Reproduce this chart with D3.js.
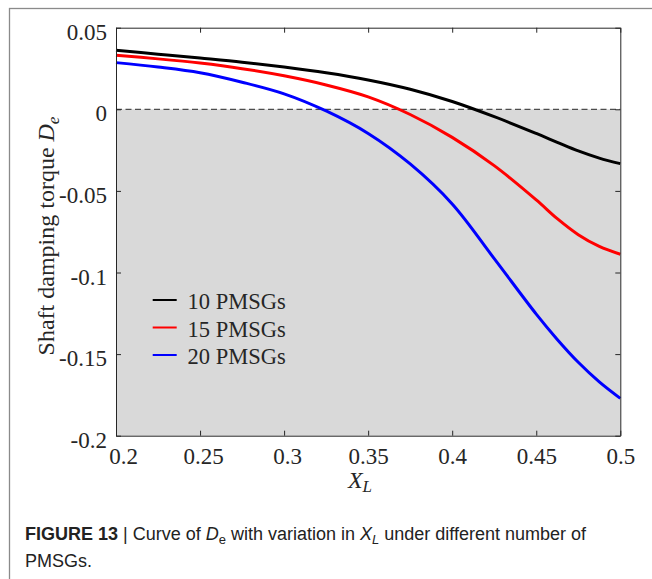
<!DOCTYPE html>
<html>
<head>
<meta charset="utf-8">
<script src="https://cdn.jsdelivr.net/npm/d3@7"></script>
<style>
  html, body { margin: 0; padding: 0; background: #fff; }
  svg { display: block; }
</style>
</head>
<body>
<svg id="chart" width="652" height="579"></svg>
<script>
// ---- data ----
const xValues = [0.2, 0.225, 0.25, 0.275, 0.3, 0.325, 0.35, 0.375, 0.4, 0.425, 0.45, 0.4625, 0.475, 0.4875, 0.5];
const pmsg10 = [0.0362, 0.0338, 0.0314, 0.0289, 0.0259, 0.0224, 0.0180, 0.0123, 0.0048, -0.0045, -0.0148, -0.0202, -0.0255, -0.0299, -0.0333];
const pmsg15 = [0.0331, 0.0309, 0.0283, 0.0249, 0.0205, 0.0149, 0.0076, -0.0032, -0.0172, -0.0345, -0.0555, -0.0670, -0.0768, -0.0840, -0.0888];
const pmsg20 = [0.0286, 0.0259, 0.0224, 0.0166, 0.0095, -0.0010, -0.0148, -0.0335, -0.0580, -0.0915, -0.1255, -0.1410, -0.1550, -0.1670, -0.1771];
const seriesNames = ["10 PMSGs", "15 PMSGs", "20 PMSGs"];
const seriesColors = ["#000000", "#ff0000", "#0000ff"];
const xTicks = [0.2, 0.25, 0.3, 0.35, 0.4, 0.45, 0.5];
const xTickLabels = ["0.2", "0.25", "0.3", "0.35", "0.4", "0.45", "0.5"];
const yTicks = [-0.2, -0.15, -0.1, -0.05, 0, 0.05];
const yTickLabels = ["-0.2", "-0.15", "-0.1", "-0.05", "0", "0.05"];

const series = [pmsg10, pmsg15, pmsg20].map((vals, i) => ({
  name: seriesNames[i], color: seriesColors[i],
  points: vals.map((v, j) => ({ x: xValues[j], y: v }))
}));

// ---- layout ----
const svg = d3.select("#chart");
const L = 116, R = 620.3, T = 27.7, B = 435.7;
const x = d3.scaleLinear().domain([0.2, 0.5]).range([L, R]);
const y = d3.scaleLinear().domain([-0.2, 0.05]).range([B, T]);
const axisColor = "#262626";
const serif = "'Liberation Serif', 'Times New Roman', serif";
const sans = "'Liberation Sans', Arial, Helvetica, sans-serif";

// outer figure frame
svg.append("rect")
  .attr("x", 9.5).attr("y", 8.5).attr("width", 700).attr("height", 700)
  .attr("fill", "none").attr("stroke", "#8a8a8a").attr("stroke-width", 1.3);

// plot background: white above 0, grey below 0
svg.append("rect")
  .attr("x", L).attr("y", y(0)).attr("width", R - L).attr("height", B - y(0))
  .attr("fill", "#d9d9d9");

// dashed zero line
svg.append("line")
  .attr("x1", L).attr("x2", R).attr("y1", y(0)).attr("y2", y(0))
  .attr("stroke", "#4d4d4d").attr("stroke-width", 1.2)
  .attr("stroke-dasharray", "6,3.5");

// curves
const line = d3.line().x(d => x(d.x)).y(d => y(d.y)).curve(d3.curveCatmullRom.alpha(0.5));
svg.append("g").selectAll("path")
  .data(series.slice().reverse())
  .join("path")
  .attr("d", d => line(d.points))
  .attr("fill", "none")
  .attr("stroke", d => d.color)
  .attr("stroke-width", 3)
  .attr("stroke-linejoin", "round");

// axes
function styleAxis(g) {
  g.selectAll(".domain").attr("stroke", axisColor).attr("stroke-width", 1);
  g.selectAll(".tick line").attr("stroke", axisColor).attr("stroke-width", 1);
  g.selectAll("text").attr("fill", axisColor).attr("font-family", serif).attr("font-size", 23);
}
const xAxis = d3.axisBottom(x).tickValues(xTicks)
  .tickFormat((d, i) => xTickLabels[i]).tickSizeInner(-5).tickSizeOuter(0).tickPadding(12);
const gx = svg.append("g").attr("transform", `translate(0,${B})`).call(xAxis).call(styleAxis);
gx.selectAll(".tick text").attr("y", 11.5).attr("dy", "0.71em")
  .attr("dx", (d, i) => i === 0 ? 7 : (i < 3 ? 3 : 0));

const xAxisTop = d3.axisTop(x).tickValues(xTicks).tickFormat("").tickSizeInner(-5).tickSizeOuter(0);
svg.append("g").attr("transform", `translate(0,${T})`).call(xAxisTop).call(styleAxis);

const yAxis = d3.axisLeft(y).tickValues(yTicks)
  .tickFormat((d, i) => yTickLabels[i]).tickSizeInner(-5).tickSizeOuter(0).tickPadding(9);
const gy = svg.append("g").attr("transform", `translate(${L},0)`).call(yAxis).call(styleAxis);
gy.selectAll(".tick text").attr("x", -9).attr("dy", "0.5em");

const yAxisRight = d3.axisRight(y).tickValues(yTicks).tickFormat("").tickSizeInner(-5).tickSizeOuter(0);
svg.append("g").attr("transform", `translate(${R},0)`).call(yAxisRight).call(styleAxis);

// axis titles
const xt = svg.append("text")
  .attr("x", 360).attr("y", 488).attr("text-anchor", "middle")
  .attr("font-family", serif).attr("font-size", 24).attr("fill", axisColor)
  .attr("font-style", "italic");
xt.append("tspan").text("X");
xt.append("tspan").attr("font-size", 17).attr("dy", 4).text("L");

const yt = svg.append("text")
  .attr("transform", "translate(54,236) rotate(-90)")
  .attr("text-anchor", "middle")
  .attr("font-family", serif).attr("font-size", 24).attr("fill", axisColor);
yt.append("tspan").text("Shaft damping torque ");
yt.append("tspan").attr("font-style", "italic").text("D");
yt.append("tspan").attr("font-style", "italic").attr("font-size", 17).attr("dy", 5).text("e");

// legend
const legend = svg.append("g");
const legY0 = 300, legStep = 27.5;
series.forEach((s, i) => {
  const yy = legY0 + i * legStep;
  legend.append("line")
    .attr("x1", 152.7).attr("x2", 176.7).attr("y1", yy).attr("y2", yy)
    .attr("stroke", s.color).attr("stroke-width", 2);
  legend.append("text")
    .attr("x", 187.5).attr("y", yy + 9)
    .attr("font-family", serif).attr("font-size", 22.5).attr("fill", axisColor)
    .text(s.name);
});

// caption
const cap = svg.append("text")
  .attr("x", 25).attr("y", 540)
  .attr("font-family", sans).attr("font-size", 18).attr("fill", "#222");
cap.append("tspan").attr("font-weight", "bold").text("FIGURE 13");
cap.append("tspan").text(" | Curve of ");
cap.append("tspan").attr("font-style", "italic").text("D");
cap.append("tspan").attr("font-size", 13).attr("dy", 4).text("e");
cap.append("tspan").attr("dy", -4).text(" with variation in ");
cap.append("tspan").attr("font-style", "italic").text("X");
cap.append("tspan").attr("font-style", "italic").attr("font-size", 13).attr("dy", 4).text("L");
cap.append("tspan").attr("dy", -4).text(" under different number of");
svg.append("text")
  .attr("x", 25).attr("y", 566.5)
  .attr("font-family", sans).attr("font-size", 18).attr("fill", "#222")
  .text("PMSGs.");
</script>
</body>
</html>
